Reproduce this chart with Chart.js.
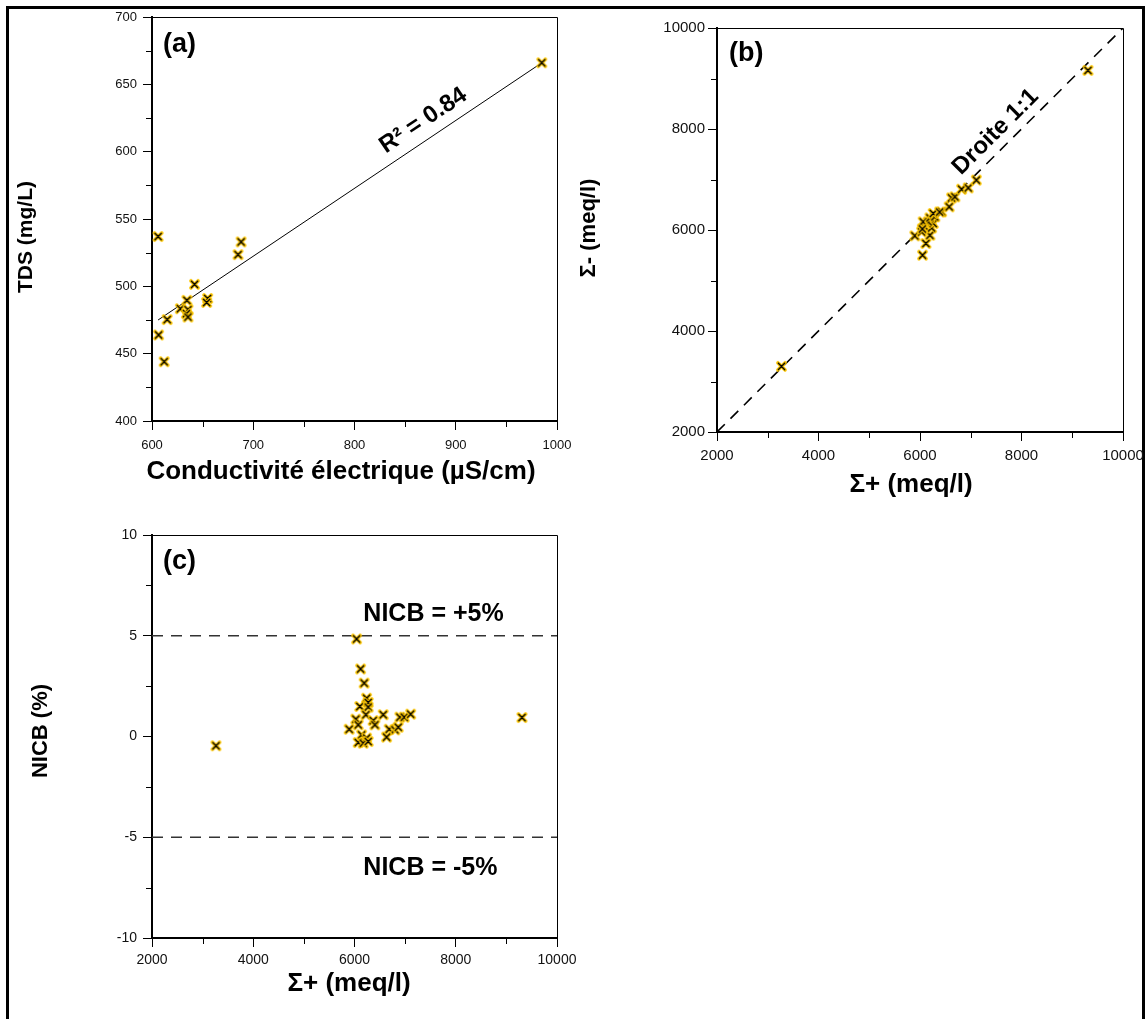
<!DOCTYPE html>
<html>
<head>
<meta charset="utf-8">
<script src="https://cdn.jsdelivr.net/npm/chart.js@4.4.0/dist/chart.umd.min.js"></script>
<style>
  body { margin: 0; background: #fff; width: 1147px; height: 1019px; overflow: hidden; position: relative; }
  #frame { position: absolute; left: 6px; top: 6px; width: 1139px; height: 1100px; box-sizing: border-box;
           border: 3px solid #000; border-bottom: none; }
  canvas { position: absolute; }
</style>
</head>
<body>
<div id="frame"></div>
<canvas id="chartA" width="600" height="500" style="left:0px;top:0px"></canvas>
<canvas id="chartB" width="600" height="500" style="left:580px;top:0px"></canvas>
<canvas id="chartC" width="600" height="519" style="left:0px;top:500px"></canvas>
<script>
  // (a) TDS vs conductivite
  var condEC = [985, 606, 688, 685, 642, 655, 654, 634.5, 628, 635.5, 634, 635.5, 615, 606.5, 612];
  var tdsMgL = [666, 537, 533, 523.5, 501.5, 491, 488, 489.6, 483.4, 482.7, 479.7, 477.2, 475.3, 463.9, 444];
  var fitEC = [606, 985];
  var fitTDS = [475, 666];
  var ticksA_x = [600, 1000, 100];
  var ticksA_y = [400, 700, 50];

  // (b) somme anions vs somme cations
  var cationsB = [3270, 9310, 6050, 6116, 5899, 6031, 6195, 6096, 6228, 6260, 6161, 6062, 6195, 6293,
                  6260, 6425, 6387, 6046, 6575, 6622, 6688, 6820, 6950, 7110];
  var anionsB = [3300, 9160, 5502, 5733, 5884, 5963, 5897, 6062, 6042, 6129, 6161, 6161, 6240, 6260,
                 6327, 6359, 6356, 6020, 6458, 6636, 6656, 6808, 6834, 6988];
  var oneToOne = [2000, 10000];
  var ticksB = [2000, 10000, 2000];

  // (c) NICB vs somme cations
  var cationsC = [3264, 9308, 6041, 6120, 6191, 6239, 6270, 6106, 6270, 6225, 6567, 6897, 6982, 7109,
                  6027, 6369, 6403, 6073, 5895, 6685, 6798, 6864, 6634, 6140, 6239, 6073, 6172, 6270];
  var nicbC = [-0.46, 0.94, 4.84, 3.35, 2.65, 1.90, 1.69, 1.49, 1.46, 1.08, 1.08, 0.96, 0.96, 1.11,
               0.86, 0.79, 0.58, 0.58, 0.36, 0.36, 0.33, 0.46, -0.03, 0.08, -0.08, -0.30, -0.33, -0.25];
  var nicbLimits = [5, -5];
  var ticksC_x = [2000, 10000, 2000];
  var ticksC_y = [-10, 10, 5];

  var FONT = '"Liberation Sans", Arial, sans-serif';

  function toPoints(xs, ys) {
    return xs.map(function (x, i) { return { x: x, y: ys[i] }; });
  }

  // black cross with yellow halo
  function makeCross() {
    var c = document.createElement('canvas');
    c.width = 13; c.height = 13;
    var g = c.getContext('2d');
    g.lineCap = 'round';
    function cross(color, w, r) {
      g.strokeStyle = color; g.lineWidth = w;
      g.beginPath();
      g.moveTo(6.5 - r, 6.5 - r); g.lineTo(6.5 + r, 6.5 + r);
      g.moveTo(6.5 + r, 6.5 - r); g.lineTo(6.5 - r, 6.5 + r);
      g.stroke();
    }
    cross('#FFC800', 3.6, 3.6);
    cross('#000', 1.4, 3.2);
    return c;
  }
  var crossMark = makeCross();

  function axis(t, fit, tickSize, pad) {
    return {
      type: 'linear', min: t[0], max: t[1],
      ticks: { stepSize: t[2], autoSkip: false, maxRotation: 0, color: '#111', padding: pad,
               font: { family: FONT, size: tickSize },
               callback: function (v) { return String(v); } },
      grid: { drawOnChartArea: false, tickLength: 9, color: '#000', lineWidth: 1 },
      border: { color: '#000', width: 2 },
      afterFit: fit
    };
  }

  function options(tx, ty, yWidth, xHeight, pad, tickSize, xPad, yPad) {
    return {
      responsive: false, animation: false, devicePixelRatio: 1,
      layout: { padding: pad },
      plugins: { legend: { display: false }, tooltip: { enabled: false } },
      scales: {
        x: axis(tx, function (s) { s.height = xHeight; }, tickSize, xPad),
        y: axis(ty, function (s) { s.width = yWidth; }, tickSize, yPad)
      }
    };
  }

  // frame top/right, minor ticks, texts
  function decor(d) {
    return {
      id: 'decor',
      afterDraw: function (chart) {
        var ctx = chart.ctx, a = chart.chartArea, sx = chart.scales.x, sy = chart.scales.y;
        ctx.save();
        ctx.strokeStyle = '#000';
        ctx.lineWidth = 1;
        ctx.beginPath();
        ctx.moveTo(a.left, a.top + 0.5); ctx.lineTo(a.right + 0.5, a.top + 0.5); ctx.lineTo(a.right + 0.5, a.bottom);
        var v, p;
        for (v = sx.min + d.minorX; v < sx.max; v += 2 * d.minorX) {
          p = Math.round(sx.getPixelForValue(v)) + 0.5;
          ctx.moveTo(p, a.bottom); ctx.lineTo(p, a.bottom + 6);
        }
        for (v = sy.min + d.minorY; v < sy.max; v += 2 * d.minorY) {
          p = Math.round(sy.getPixelForValue(v)) + 0.5;
          ctx.moveTo(a.left, p); ctx.lineTo(a.left - 6, p);
        }
        ctx.stroke();

        ctx.fillStyle = '#000';
        d.texts.forEach(function (t) {
          var x = t.data ? sx.getPixelForValue(t.x) : t.x;
          var y = t.data ? sy.getPixelForValue(t.y) : t.y;
          var ang = t.angle || 0;
          if (t.along) {
            ang = Math.atan2(sy.getPixelForValue(t.along[3]) - sy.getPixelForValue(t.along[1]),
                             sx.getPixelForValue(t.along[2]) - sx.getPixelForValue(t.along[0]));
          }
          ctx.save();
          ctx.translate(x, y);
          ctx.rotate(ang);
          ctx.font = 'bold ' + t.size + 'px ' + FONT;
          ctx.textAlign = t.align || 'center';
          ctx.textBaseline = t.base || 'alphabetic';
          ctx.fillText(t.text, 0, 0);
          ctx.restore();
        });
        ctx.restore();
      }
    };
  }

  var lineStyle = { showLine: true, borderColor: '#000', borderWidth: 1, pointRadius: 0 };

  new Chart(document.getElementById('chartA'), {
    type: 'scatter',
    data: { datasets: [
      { data: toPoints(condEC, tdsMgL), pointStyle: crossMark },
      Object.assign({ data: toPoints(fitEC, fitTDS) }, lineStyle)
    ] },
    options: options(ticksA_x, ticksA_y, 152, 79, { left: 0, top: 17, right: 43, bottom: 0 }, 13, 8, 6),
    plugins: [decor({
      minorX: 50, minorY: 25,
      texts: [
        { text: '(a)', x: 163, y: 52, size: 27, align: 'left' },
        { text: 'R\u00B2 = 0.84', x: 868, y: 623, data: true, size: 24, base: 'middle',
          along: [fitEC[0], fitTDS[0], fitEC[1], fitTDS[1]] },
        { text: 'Conductivit\u00E9 \u00E9lectrique (\u00B5S/cm)', x: 341, y: 479, size: 26 },
        { text: 'TDS (mg/L)', x: 31.5, y: 237, size: 21, angle: -Math.PI / 2 }
      ]
    })]
  });

  new Chart(document.getElementById('chartB'), {
    type: 'scatter',
    data: { datasets: [
      { data: toPoints(cationsB, anionsB), pointStyle: crossMark },
      Object.assign({ data: toPoints(oneToOne, oneToOne), borderDash: [11, 8] }, lineStyle, { borderWidth: 1.6 })
    ] },
    options: options(ticksB, ticksB, 137, 68, { left: 0, top: 28, right: 57, bottom: 0 }, 15, 6, 3),
    plugins: [decor({
      minorX: 1000, minorY: 1000,
      texts: [
        { text: '(b)', x: 149, y: 61, size: 27, align: 'left' },
        { text: 'Droite 1:1', x: 7490, y: 7942, data: true, size: 24, base: 'middle',
          along: [oneToOne[0], oneToOne[0], oneToOne[1], oneToOne[1]] },
        { text: '\u03A3+ (meq/l)', x: 331, y: 492, size: 26 },
        { text: '\u03A3- (meq/l)', x: 15, y: 228, size: 22, angle: -Math.PI / 2 }
      ]
    })]
  });

  new Chart(document.getElementById('chartC'), {
    type: 'scatter',
    data: { datasets: [
      { data: toPoints(cationsC, nicbC), pointStyle: crossMark },
      Object.assign({ data: toPoints(ticksC_x.slice(0, 2), [nicbLimits[0], nicbLimits[0]]), borderDash: [11, 8] }, lineStyle, { borderColor: '#333', borderWidth: 1.4 }),
      Object.assign({ data: toPoints(ticksC_x.slice(0, 2), [nicbLimits[1], nicbLimits[1]]), borderDash: [11, 8] }, lineStyle, { borderColor: '#333', borderWidth: 1.4 })
    ] },
    options: options(ticksC_x, ticksC_y, 152, 81, { left: 0, top: 35, right: 43, bottom: 0 }, 14, 5, 6),
    plugins: [decor({
      minorX: 1000, minorY: 2.5,
      texts: [
        { text: '(c)', x: 163, y: 69, size: 27, align: 'left' },
        { text: 'NICB = +5%', x: 6175, y: 5.71, data: true, size: 25, align: 'left' },
        { text: 'NICB = -5%', x: 6175, y: -6.87, data: true, size: 25, align: 'left' },
        { text: '\u03A3+ (meq/l)', x: 349, y: 491, size: 26 },
        { text: 'NICB (%)', x: 47, y: 231, size: 22, angle: -Math.PI / 2 }
      ]
    })]
  });
</script>
</body>
</html>
